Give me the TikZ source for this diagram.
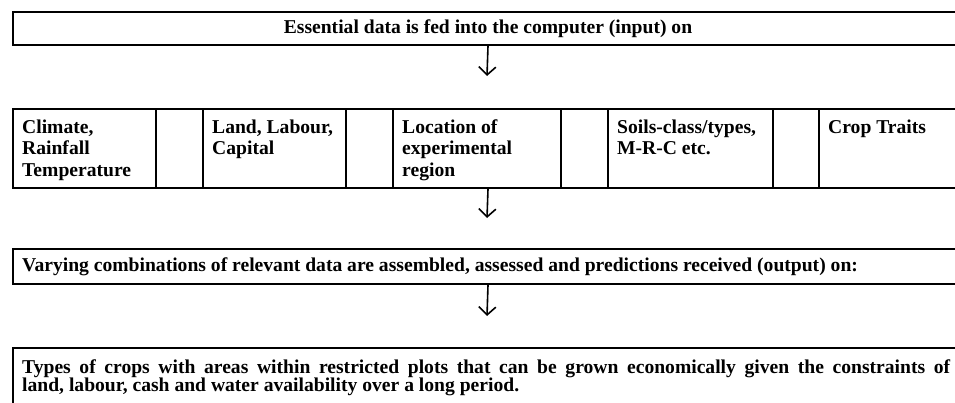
\documentclass[tikz,border=0pt]{standalone}
\usepackage{fontspec}
\setmainfont{Liberation Serif}
\usetikzlibrary{arrows.meta,positioning}

\newcommand\tightlines{\lineskiplimit=-20pt\relax}

\tikzset{
  frame/.style={draw, line width=2pt, rectangle, inner sep=0pt, anchor=north west},
  cellbox/.style={frame, minimum height=79pt},
  celltxt/.style={inner sep=0pt, align=left,
    font=\bfseries\fontsize{19.6}{21.5}\selectfont\tightlines},
  flow/.style={->, line width=1.6pt},
}

\begin{document}
\begin{tikzpicture}[x=1pt, y=-1pt, >={Straight Barb[length=8pt,width=17pt]},
    font=\bfseries\fontsize{19.6}{18.5}\selectfont\tightlines]
	\useasboundingbox (0,0) rectangle (955,402);
	\clip (0,0) rectangle (955,402);
	
	% --- input box (runs off the right edge) ---
	\node[frame, minimum width=950pt, minimum height=33pt] (input) at (12,11) {};
	\node (inputtxt) at (input.center) {Essential data is fed into the computer (input) on};
	
	% --- row of data boxes with empty spacers ---
	\foreach \name/\xa/\cw in {c1/12/143, g1/155/47, c2/202/143, g2/345/47,
	    c3/392/168, g3/560/47, c4/607/165, g4/772/46, c5/818/144}
	  \node[cellbox, minimum width=\cw pt] (\name) at (\xa,108) {};
	
	\node[celltxt, below right=10pt and 10pt of c1.north west] (t1) {\strut Climate,\\Rainfall\\Temperature};
	\node[celltxt, below right=10pt and 10pt of c2.north west] (t2) {\strut Land, Labour,\\Capital};
	\node[celltxt, below right=10pt and 10pt of c3.north west] (t3) {\strut Location of\\experimental\\region};
	\node[celltxt, below right=10pt and 10pt of c4.north west] (t4) {\strut Soils-class/types,\\M-R-C etc.};
	\node[celltxt, below right=10pt and 10pt of c5.north west] (t5) {\strut Crop Traits};
	
	% --- output box ---
	\node[frame, minimum width=950pt, minimum height=35pt] (output) at (12,248) {};
	\node[inner sep=0pt, right=10pt of output.west] (outputtxt)
	  {Varying combinations of relevant data are assembled, assessed and predictions received (output) on:};
	
	% --- result box (cut at the bottom) ---
	\node[frame, minimum width=950pt, minimum height=70pt] (result) at (12,347) {};
	\node[inner sep=0pt, text width=928pt, align=justify, below right=12pt and 10pt of result.north west] (resulttxt)
	  {\strut Types of crops with areas within restricted plots that can be grown economically given the constraints of\linebreak land, labour, cash and water availability over a long period.};
	
	% --- arrows between the stages ---
	\coordinate (a1e) at (487,76);
	\coordinate (a2e) at (487,218);
	\coordinate (a3e) at (487,316);
	\draw[flow] (input.south) -- (a1e);
	\draw[flow] (c3.south -| input.south) -- (a2e);
	\draw[flow] (output.south) -- (a3e);
	
\end{tikzpicture}
\end{document}
